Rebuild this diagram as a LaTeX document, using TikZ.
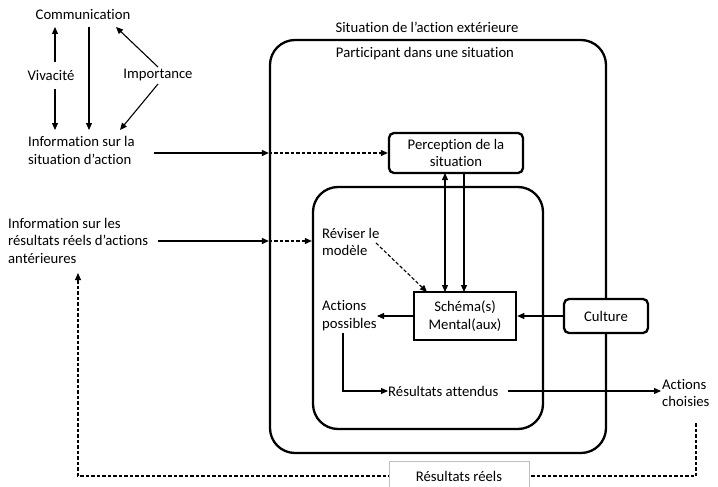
\documentclass[tikz,border=0pt]{standalone}
\usepackage{fontspec}
\setmainfont{Carlito}[Ligatures={NoCommon,NoRare}]
\usetikzlibrary{arrows.meta,calc}
\begin{document}
\begin{tikzpicture}[x=1pt,y=-1pt,
  font=\fontsize{14.7}{17.5}\selectfont,
  txt/.style={inner sep=0pt, align=left},
  tip/.tip={Triangle[length=7pt,width=6pt]},
  arr/.style={-tip, line width=1.1pt},
  darr/.style={arr, dash pattern=on 3.5pt off 2pt},
  bigbox/.style={draw, line width=2.3pt, rounded corners=25pt, inner sep=0pt},
  smallbox/.style={draw, line width=2.3pt, rounded corners=5pt, inner sep=0pt, align=center},
]
\useasboundingbox (0,0) rectangle (718,487);

% boxes
\node[bigbox, minimum width=336pt, minimum height=413pt] (outer) at (438,246.5) {};
\node[bigbox, minimum width=230pt, minimum height=242pt] (inner) at (428,308) {};
\node[smallbox, minimum width=134pt, minimum height=40pt] (percep) at (456,153) {Perception de la\\situation};
\node[draw, line width=2.5pt, inner sep=0pt, align=center, minimum width=102pt, minimum height=48pt] (schema) at (465,316) {Schéma(s)\\Mental(aux)};
\node[smallbox, fill=white, minimum width=84pt, minimum height=34pt] (culture) at (606,316) {Culture};

% texts
\node[txt] (comm) at (83,14) {Communication};
\node[txt] (vivac) at (51,75) {Vivacité};
\node[txt] (import) at (158,75) {Importance};
\node[txt, anchor=west] (infosit) at (28,150.5) {Information sur la\\situation d’action};
\node[txt, anchor=west] (infores) at (8,240.5) {Information sur les\\résultats réels d’actions\\antérieures};
\node[txt] (sitext) at (427,27) {Situation de l’action extérieure};
\node[txt] (partic) at (425,54) {Participant dans une situation};
\node[txt, anchor=west] (reviser) at (322,242) {Réviser le\\modèle};
\node[txt, anchor=west] (actposs) at (322,315.5) {Actions\\possibles};
\node[txt, anchor=west] (resatt) at (388,391) {Résultats attendus};
\node[txt, anchor=west] (actch) at (662,393) {Actions\\choisies};

% top-left arrows
\coordinate (v1) at (55,62);
\coordinate (v2) at (55,89);
\coordinate (c1) at (89,27);
\coordinate (i1) at (158,67);
\coordinate (i2) at (158,84);
\draw[arr] (v1) -- (v1 |- 0,27);
\draw[arr] (v2) -- (v2 |- 0,130);
\draw[arr] (c1) -- (c1 |- 0,130);
\draw[arr] (i1) -- (116,27);
\draw[arr] (i2) -- (120,130);

% information arrows
\draw[arr] ([xshift=19pt]infosit.east |- percep.west) -- (outer.west |- percep.west);
\draw[darr] (outer.west |- percep.west) -- (percep.west);
\coordinate (r1) at (158,241);
\draw[arr] (r1) -- (outer.west |- r1);
\draw[darr] (outer.west |- r1) -- (inner.west |- r1);

% inner arrows
\draw[darr] (376,243) -- (427,292);
\draw[arr, tip-tip] (445,173) -- (445,292);
\draw[arr] (464,173) -- (464,292);
\draw[arr] (culture.west) -- (schema.east);
\draw[arr] (schema.west) -- (377,316);
\draw[arr] (343,333) -- (343,391) -- (resatt.west);
\draw[arr] (resatt.east) ++(9,0) -- (661,391);

% feedback
\coordinate (fb1) at (696,476);
\coordinate (fb2) at (78,476);
\draw[darr] (696,423) -- (fb1) -- (fb2) -- (78,273);
\node[draw=black!25, fill=white, line width=0.8pt, minimum width=140pt, minimum height=30pt, inner sep=0pt] (resreels) at (459,476) {Résultats réels};
\end{tikzpicture}
\end{document}
